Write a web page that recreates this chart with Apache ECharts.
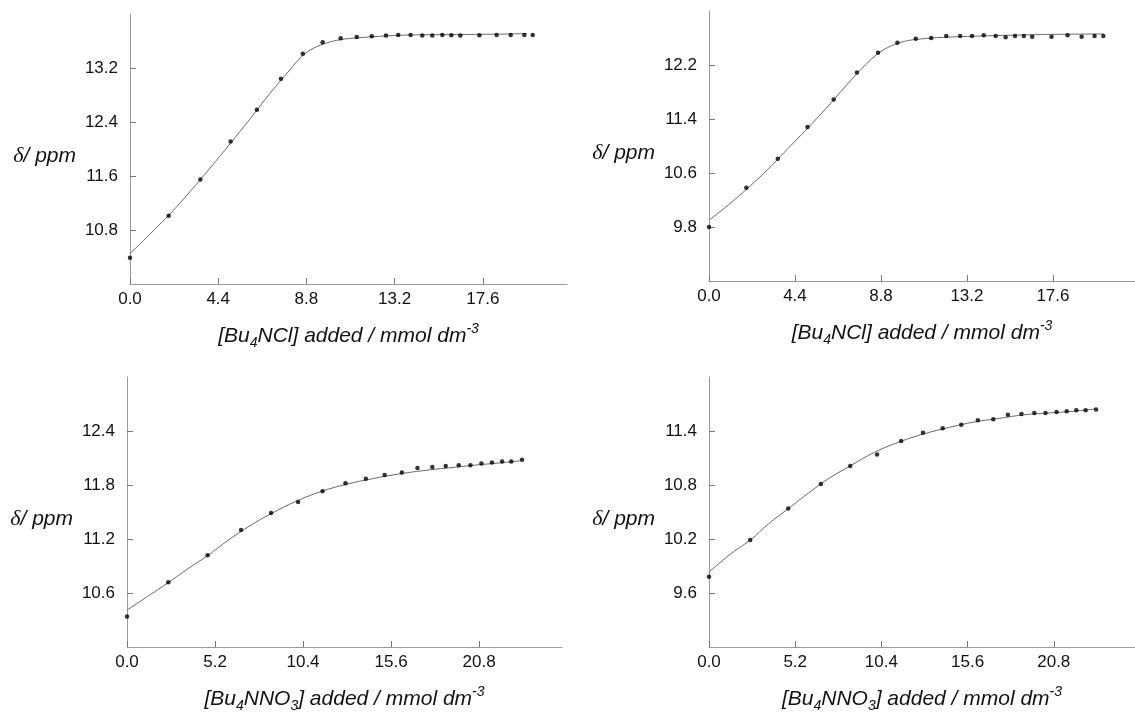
<!DOCTYPE html>
<html>
<head>
<meta charset="utf-8">
<title>Titration curves</title>
<script src="https://cdn.jsdelivr.net/npm/echarts@6/dist/echarts.min.js"></script>
<style>
  html, body { margin: 0; padding: 0; background: #fff; }
  #chart { width: 1135px; height: 717px; }
</style>
</head>
<body>
<div id="chart"></div>
<script>
// --- Bu4NCl titrations (top row) ---
const clTicksX = [0, 4.4, 8.8, 13.2, 17.6];

const clPtsX1 = [0, 1.93, 3.51, 5.02, 6.33, 7.53, 8.62, 9.61, 10.51, 11.31, 12.06, 12.77, 13.38, 14.00, 14.58, 15.08, 15.58, 16.03, 16.48, 17.43, 18.29, 18.99, 19.67, 20.09];
const clPtsY1 = [10.39, 11.01, 11.55, 12.11, 12.58, 13.04, 13.41, 13.58, 13.64, 13.66, 13.67, 13.68, 13.69, 13.69, 13.68, 13.68, 13.69, 13.685, 13.68, 13.685, 13.69, 13.69, 13.69, 13.69];
const clFitX1 = [0, 1, 2, 3, 4, 5, 6, 7, 8, 8.6, 9.2, 9.8, 10.5, 11.3, 12.5, 14, 16, 18, 19.8];
const clFitY1 = [10.45, 10.74, 11.04, 11.37, 11.72, 12.08, 12.45, 12.83, 13.18, 13.38, 13.50, 13.57, 13.62, 13.645, 13.67, 13.69, 13.695, 13.70, 13.71];
const clTicksY1 = [10.8, 11.6, 12.4, 13.2];

const clPtsX2 = [0, 1.91, 3.52, 5.04, 6.38, 7.57, 8.65, 9.64, 10.58, 11.37, 12.14, 12.85, 13.46, 14.06, 14.67, 15.18, 15.66, 16.11, 16.54, 17.53, 18.35, 19.07, 19.73, 20.18];
const clPtsY2 = [9.80, 10.38, 10.81, 11.28, 11.69, 12.09, 12.38, 12.53, 12.59, 12.60, 12.63, 12.63, 12.63, 12.64, 12.63, 12.61, 12.63, 12.63, 12.62, 12.62, 12.64, 12.62, 12.63, 12.63];
const clFitX2 = [0, 1, 2, 3, 4, 5, 6, 7, 8, 8.7, 9.3, 10, 10.8, 12, 14, 16, 18, 20.2];
const clFitY2 = [9.90, 10.13, 10.38, 10.65, 10.95, 11.25, 11.56, 11.89, 12.20, 12.38, 12.48, 12.55, 12.585, 12.61, 12.63, 12.645, 12.655, 12.66];
const clTicksY2 = [9.8, 10.6, 11.4, 12.2];

// --- Bu4NNO3 titrations (bottom row) ---
const noTicksX = [0, 5.2, 10.4, 15.6, 20.8];

const noPtsX1 = [0, 2.44, 4.76, 6.74, 8.51, 10.11, 11.55, 12.91, 14.11, 15.22, 16.24, 17.16, 18.04, 18.83, 19.60, 20.29, 20.94, 21.56, 22.16, 22.70, 23.34];
const noPtsY1 = [10.34, 10.72, 11.02, 11.30, 11.49, 11.61, 11.73, 11.82, 11.87, 11.91, 11.94, 11.99, 12.00, 12.01, 12.02, 12.02, 12.04, 12.05, 12.06, 12.06, 12.08];
const noFitX1 = [0, 1.2, 2.4, 3.6, 4.8, 6, 7.2, 8.5, 10, 11.5, 13, 14.5, 16, 17.5, 19, 20.5, 22, 23.3];
const noFitY1 = [10.41, 10.56, 10.71, 10.87, 11.02, 11.19, 11.34, 11.48, 11.62, 11.73, 11.81, 11.87, 11.92, 11.96, 11.99, 12.02, 12.045, 12.07];
const noTicksY1 = [10.6, 11.2, 11.8, 12.4];

const noPtsX2 = [0, 2.49, 4.78, 6.75, 8.52, 10.14, 11.59, 12.91, 14.10, 15.22, 16.22, 17.15, 18.03, 18.85, 19.63, 20.30, 20.97, 21.58, 22.16, 22.72, 23.35];
const noPtsY2 = [9.78, 10.19, 10.54, 10.81, 11.01, 11.14, 11.29, 11.38, 11.43, 11.47, 11.52, 11.53, 11.58, 11.59, 11.60, 11.60, 11.61, 11.62, 11.63, 11.63, 11.64];
const noFitX2 = [0, 1.2, 2.5, 3.6, 4.8, 6, 7.2, 8.5, 10, 11.5, 13, 14.5, 16, 17.5, 19, 20.5, 22, 23.3];
const noFitY2 = [9.83, 10.02, 10.19, 10.37, 10.54, 10.71, 10.87, 11.01, 11.165, 11.28, 11.37, 11.44, 11.50, 11.54, 11.58, 11.60, 11.62, 11.645];
const noTicksY2 = [9.6, 10.2, 10.8, 11.4];

const sans = 'Liberation Sans, Arial, sans-serif';
const serif = 'Liberation Serif, Times New Roman, serif';

const xNameRich = {
  t: { fontSize: 21, fontStyle: 'italic', fontFamily: sans, color: '#111', lineHeight: 28 },
  s: { fontSize: 14, fontStyle: 'italic', fontFamily: sans, color: '#111', lineHeight: 14, verticalAlign: 'bottom' },
  p: { fontSize: 14, fontStyle: 'italic', fontFamily: sans, color: '#111', lineHeight: 14, verticalAlign: 'top' }
};
const yNameRich = {
  d: { fontSize: 22, fontStyle: 'italic', fontFamily: serif, color: '#111' },
  t: { fontSize: 21, fontStyle: 'italic', fontFamily: sans, color: '#111' }
};

const zip = (xs, ys) => xs.map((x, i) => [x, ys[i]]);

const grids = [], xAxes = [], yAxes = [], series = [];

function addPanel(box, xMax, yMin, yMax, ticksX, ticksY, ptsX, ptsY, fitX, fitY, xName) {
  const i = grids.length;
  grids.push(box);
  const tickLabel = {
    fontSize: 17,
    color: '#111',
    fontFamily: sans,
    formatter: (v) => Number(v).toFixed(1)
  };
  xAxes.push({
    type: 'value',
    gridIndex: i,
    min: 0,
    max: xMax,
    axisLine: { show: true, onZero: false, lineStyle: { color: '#9a9a9a', width: 1 } },
    axisTick: { show: true, inside: true, length: 6, customValues: ticksX, lineStyle: { color: '#777' } },
    axisLabel: { ...tickLabel, customValues: ticksX, margin: 7 },
    splitLine: { show: false },
    name: xName,
    nameLocation: 'middle',
    nameGap: 38,
    nameTextStyle: { rich: xNameRich }
  });
  yAxes.push({
    type: 'value',
    gridIndex: i,
    min: yMin,
    max: yMax,
    axisLine: { show: true, onZero: false, lineStyle: { color: '#9a9a9a', width: 1 } },
    axisTick: { show: true, inside: true, length: 6, customValues: ticksY, lineStyle: { color: '#777' } },
    axisLabel: { ...tickLabel, customValues: ticksY, margin: 12 },
    splitLine: { show: false },
    name: '{d|δ}{t|/ ppm}',
    nameLocation: 'middle',
    nameRotate: 0,
    nameGap: 54,
    nameTextStyle: { rich: yNameRich, padding: [14, 0, 0, 0] }
  });
  // fitted isotherm
  series.push({
    type: 'line',
    xAxisIndex: i,
    yAxisIndex: i,
    data: zip(fitX, fitY),
    smooth: 0.4,
    showSymbol: false,
    lineStyle: { color: '#6a6a6a', width: 1 },
    silent: true,
    z: 2
  });
  // observed shifts
  series.push({
    type: 'scatter',
    xAxisIndex: i,
    yAxisIndex: i,
    data: zip(ptsX, ptsY),
    symbol: 'circle',
    symbolSize: 4.5,
    itemStyle: { color: '#000' },
    silent: true,
    z: 3
  });
}

const clName = '{t|[Bu}{s|4}{t|NCl] added / mmol dm}{p|-3}';
const noName = '{t|[Bu}{s|4}{t|NNO}{s|3}{t|] added / mmol dm}{p|-3}';

addPanel({ left: 130, top: 14, width: 437, height: 270 }, 21.8, 10, 14, clTicksX, clTicksY1, clPtsX1, clPtsY1, clFitX1, clFitY1, clName);
addPanel({ left: 709, top: 11, width: 437, height: 270 }, 21.8, 9, 13, clTicksX, clTicksY2, clPtsX2, clPtsY2, clFitX2, clFitY2, clName);
addPanel({ left: 127, top: 377, width: 435, height: 270 }, 25.7, 10, 13, noTicksX, noTicksY1, noPtsX1, noPtsY1, noFitX1, noFitY1, noName);
addPanel({ left: 709, top: 377, width: 436, height: 270 }, 25.7, 9, 12, noTicksX, noTicksY2, noPtsX2, noPtsY2, noFitX2, noFitY2, noName);

const chart = echarts.init(document.getElementById('chart'), null, { renderer: 'canvas' });
chart.setOption({
  animation: false,
  backgroundColor: '#fff',
  grid: grids,
  xAxis: xAxes,
  yAxis: yAxes,
  series: series
});
</script>
</body>
</html>
